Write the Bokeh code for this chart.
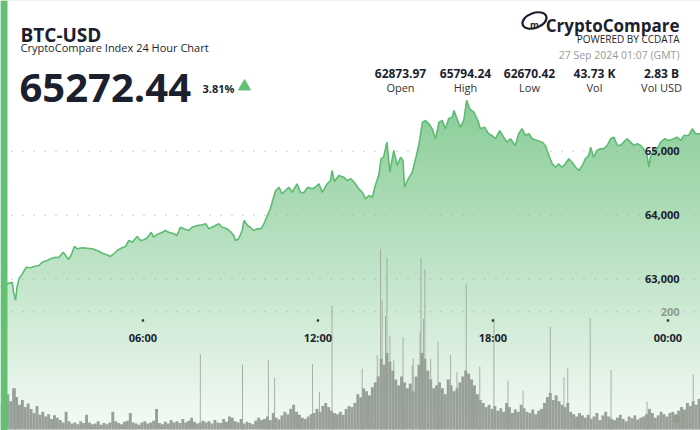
import numpy as np
from bokeh.plotting import figure
from bokeh.models import Range1d, Label, Span, BoxAnnotation
from bokeh.embed import file_html
from bokeh.resources import INLINE

# ---------------- data ----------------
title = "BTC-USD"
subtitle = "CryptoCompare Index 24 Hour Chart"
last_price = "65272.44"
change_pct = "3.81%"
brand = "CryptoCompare"
brand_sub = "POWERED BY CCDATA"
timestamp = "27 Sep 2024 01:07 (GMT)"
stat_values = ["62873.97", "65794.24", "62670.42", "43.73 K", "2.83 B"]
stat_labels = ["Open", "High", "Low", "Vol", "Vol USD"]

# minutes since 00:00 on 26 Sep (window 01:07 -> 01:07 next day)
price_min = [67, 81, 91, 94, 98, 101, 105, 112, 120, 129, 136, 146, 153, 163, 170, 180, 187, 196, 201, 207,
             212, 219, 225, 235, 245, 256, 266, 273, 279, 286, 293, 300, 307, 317, 324, 331, 338, 348, 355, 362,
             369, 377, 382, 389, 400, 406, 413, 424, 430, 437, 444, 454, 461, 472, 482, 489, 496, 502, 509, 516,
             523, 533, 540,
             547, 550, 557, 564, 568, 575, 581, 588, 595, 603, 609, 616, 622, 628, 633, 640, 646, 653, 660, 667,
             677, 684, 691, 699, 708, 715, 722, 729, 739, 746, 749, 754, 763, 773, 780, 788, 797, 804, 811, 818,
             825, 832, 838, 845, 850, 855, 862, 868, 876, 883, 890, 895, 898, 904, 914, 921, 928, 935, 941, 948,
             955, 962, 969, 976, 982, 989, 996, 1000, 1006, 1013, 1020,
             1026, 1032, 1041, 1049, 1054, 1063, 1071, 1078, 1085, 1094, 1102, 1109, 1116, 1126, 1133, 1140, 1147,
             1154, 1161, 1171, 1181, 1188, 1195, 1202, 1209, 1215, 1222, 1229, 1236, 1243, 1250, 1257, 1264, 1270,
             1277, 1281, 1287, 1294, 1301, 1308, 1315, 1322, 1329, 1336, 1343, 1349, 1356, 1363, 1370, 1377, 1384,
             1390, 1397, 1401, 1404, 1411, 1418, 1425, 1433, 1442, 1452, 1459, 1466, 1473, 1483, 1490, 1497, 1507]
price = [62874, 62928, 62953, 62797, 62670, 62875, 63006, 63084, 63188, 63180, 63198, 63214, 63266, 63292, 63319,
         63344, 63340, 63422, 63370, 63308, 63370, 63511, 63475, 63491, 63484, 63475, 63448, 63422, 63397, 63381,
         63355, 63397, 63448, 63491, 63511, 63605, 63578, 63667, 63605, 63616, 63647, 63734, 63656, 63698, 63734,
         63761, 63734, 63709, 63683, 63812, 63787, 63761, 63812, 63839, 63850, 63866, 63787, 63812, 63839, 63866,
         63812, 63787, 63745,
         63683, 63605, 63631, 63761, 63917, 63839, 63812, 63761, 63787, 63790, 63866, 63995, 64100, 64256, 64386,
         64437, 64334, 64386, 64437, 64359, 64491, 64359, 64350, 64437, 64412, 64437, 64491, 64359, 64491, 64542,
         64698, 64527, 64620, 64594, 64542, 64569, 64491, 64412, 64359, 64256, 64308, 64281, 64464, 64620, 64881,
         64906, 65141, 64672, 65011, 64777, 64906, 64855, 64437, 64542, 64672, 64881, 65116, 65453, 65480, 65428,
         65350, 65194, 65453, 65480, 65350, 65506, 65531, 65636, 65506, 65375, 65480,
         65794, 65662, 65609, 65480, 65350, 65375, 65272, 65245, 65194, 65323, 65219, 65141, 65194, 65089, 65272,
         65350, 65245, 65272, 65194, 65167, 65141, 65089, 64933, 64803, 64750, 64803, 64750, 64803, 64881, 64828,
         64750, 64698, 64777, 64881, 64933, 65062, 64906, 65011, 65037, 65040, 65089, 65194, 65219, 65089, 65095,
         65141, 65194, 65141, 65089, 65116, 65089, 65037, 64933, 64750, 64906, 65011, 65037, 65141, 65194, 65167,
         65194, 65219, 65167, 65245, 65250, 65350, 65272, 65272.44]

# volume in 6-minute buckets starting 01:07
vol_bucket = [45, 52, 60, 48, 70, 55, 42, 50, 38, 44,
              35, 28, 40, 25, 30, 22, 26, 18, 24, 20,
              16, 12, 30, 14, 10, 12, 9, 14, 11, 25,
              12, 9, 10, 14, 8, 11, 9, 12, 30, 14,
              11, 9, 13, 15, 28, 12, 10, 8, 12, 14,
              10, 12, 15, 35, 11, 9, 13, 10, 16, 12,
              14, 11, 18, 12, 15, 20, 13, 10, 12, 15,
              12, 14, 10, 16, 12, 11, 18, 13, 22, 20,
              14, 12, 18, 10, 13, 11, 9, 15, 20, 16,
              18, 22, 16, 28, 20, 17, 24, 30, 26, 35,
              42, 30, 25, 20, 18, 22, 26, 28, 35, 30,
              40, 45, 38, 32, 28, 26, 30, 25, 35, 40,
              38, 45, 60, 55, 70, 65, 58, 72, 80, 90,
              120, 110, 130, 115, 100, 85, 75, 90, 80, 70,
              78, 65, 90, 110, 130, 120, 100, 85, 70, 75,
              80, 70, 60, 85, 75, 65, 70, 80, 90, 100,
              95, 85, 75, 60, 50, 45, 38, 42, 35, 40,
              32, 36, 30, 45, 38, 28, 34, 30, 42, 36,
              30, 28, 34, 26, 32, 35, 45, 55, 62, 50,
              58, 48, 42, 38, 45, 30, 26, 22, 28, 24,
              20, 25, 18, 22, 28, 16, 24, 30, 22, 18,
              16, 20, 25, 18, 14, 22, 19, 24, 17, 20,
              22, 26, 35, 28, 20, 24, 30, 26, 22, 28,
              30, 26, 32, 38, 34, 45, 40, 48, 42, 52]
# single-minute volume spikes
spike_min = [98, 478, 565, 618, 631, 709, 723, 749, 811, 842, 849, 852, 859, 862, 868, 876, 895, 914, 916, 930,
             932, 937, 940, 952, 967, 993, 1006, 1025, 1053, 1082, 1111, 1142, 1198, 1226, 1234, 1280, 1323, 1397, 1492]
spike_vol = [70, 128, 110, 118, 88, 111, 64, 210, 103, 126, 306, 219, 193, 292, 159, 117, 157, 109, 120, 165,
             292, 188, 272, 120, 149, 127, 98, 248, 107, 188, 83, 66, 174, 89, 104, 189, 101, 47, 93]

price_ticks = [63000, 64000, 65000]
price_tick_labels = ["63,000", "64,000", "65,000"]
vol_ticks = [200]
vol_tick_labels = ["200"]
vol_zero_label = "0"
time_ticks = [360, 720, 1080, 1440]
time_tick_labels = ["06:00", "12:00", "18:00", "00:00"]

# ---------------- layout ----------------
W, H = 700, 430
X0, X1 = 67, 1507
PB, PT = 60636.0, 67354.7
VB, VT = -1.7, 728.6
FONT = "Open Sans"
DARK = "#1b1f2e"
GREEN = "#63c174"

p = figure(width=W, height=H, x_range=Range1d(X0, X1), y_range=Range1d(PB, PT),
           x_axis_type=None, y_axis_type=None, toolbar_location=None,
           output_backend="svg", min_border=0, outline_line_color=None,
           background_fill_color="white", border_fill_color="white")
p.extra_y_ranges = {"vol": Range1d(VB, VT)}


def sx(px):
    return X0 + px * (X1 - X0) / W


def sy(py):
    return PT - py * (PT - PB) / H


def sv(py):
    return VT - py * (VT - VB) / H


# vertical gradient under the price line
rows = H
img = np.empty((rows, 1), dtype=np.uint32)
v = img.view(dtype=np.uint8).reshape((rows, 1, 4))
base = np.array([90, 185, 110], dtype=float)
for r in range(rows):
    ys = H - (r + 0.5)
    a = 0.72 - 0.66 * (ys - 95) / 335
    a = min(max(a, 0.04), 0.72)
    c = 255 - a * (255 - base)
    v[r, 0, 0] = int(c[0]); v[r, 0, 1] = int(c[1]); v[r, 0, 2] = int(c[2]); v[r, 0, 3] = 255
p.image_rgba(image=[img], x=X0, y=PB, dw=X1 - X0, dh=PT - PB)

# mask above the line
p.varea(x=price_min, y1=price, y2=[PT] * len(price), fill_color="white")

# volume
vol_x = [X0 + 3 + 6 * i for i in range(len(vol_bucket))]
p.vbar(x=vol_x, top=vol_bucket, bottom=0, width=6, y_range_name="vol",
       fill_color="#8e968d", fill_alpha=0.9, line_color=None)
p.vbar(x=spike_min, top=spike_vol, bottom=0, width=1.8, y_range_name="vol",
       fill_color="#9aa199", fill_alpha=0.95, line_color=None)

# price line
p.line(price_min, price, line_color="#5dbb72", line_width=1.6)

# gridlines
for t in price_ticks:
    p.add_layout(Span(location=t, dimension="width", line_color="#a0a0a0",
                      line_width=1, line_dash="1 10"))
for t in vol_ticks:
    p.add_layout(Span(location=t, dimension="width", y_range_name="vol", line_color="#a0a0a0",
                      line_width=1, line_dash="1 10"))

for t, s in zip(price_ticks, price_tick_labels):
    p.add_layout(Label(x=679, x_units="screen", y=t, text=s, text_font=FONT,
                       text_font_size="11px", text_font_style="bold", text_color=DARK,
                       text_align="right", text_baseline="middle"))
for t, s in zip(vol_ticks, vol_tick_labels):
    p.add_layout(Label(x=679, x_units="screen", y=t, y_range_name="vol", text=s, text_font=FONT,
                       text_font_size="11px", text_font_style="bold", text_color="#8d998d",
                       text_align="right", text_baseline="middle"))
p.add_layout(Label(x=679, x_units="screen", y=12, y_units="screen", text=vol_zero_label, text_font=FONT,
                   text_font_size="10px", text_font_style="bold", text_color="#8d998d",
                   text_align="right", text_baseline="alphabetic"))

p.scatter(x=time_ticks, y=[sv(320)] * len(time_ticks), y_range_name="vol",
          marker="square", size=1.5, color="#333333")
for t, s in zip(time_ticks, time_tick_labels):
    p.add_layout(Label(x=t, y=H - 337, y_units="screen", text=s, text_font=FONT,
                       text_font_size="11px", text_font_style="bold", text_color=DARK,
                       text_align="center", text_baseline="middle"))

# left accent bar
p.add_layout(BoxAnnotation(left=0, right=7, left_units="screen", right_units="screen",
                           fill_color=GREEN, fill_alpha=1, line_color=None, level="overlay"))


def lab(x, yb, text, size, bold=False, color=DARK, align="left"):
    p.add_layout(Label(x=x, y=H - yb, x_units="screen", y_units="screen", text=text,
                       text_font=FONT, text_font_size=f"{size}px",
                       text_font_style="bold" if bold else "normal",
                       text_color=color, text_align=align, text_baseline="alphabetic"))


lab(20, 34, title, 19, True)
lab(20, 46.5, subtitle, 11)
lab(19, 87.5, last_price, 40, True)
lab(202, 88, change_pct, 11, True)
p.scatter(x=[sx(244)], y=[sy(86)], marker="triangle", size=12, color=GREEN)

lab(679, 25, brand, 17, True, align="right")
lab(679, 38.5, brand_sub, 10, align="right")
lab(679, 54.5, timestamp, 10.5, color="#9a9a9a", align="right")
p.ellipse(x=[sx(534)], y=[sy(20)], width=25, height=15, angle=0.35,
          width_units="screen", height_units="screen",
          fill_color=None, line_color=DARK, line_width=2.2)
lab(534, 24, "m", 9, True, align="center")

centers = [400, 465, 529, 594, 661]
for c, val, name in zip(centers, stat_values, stat_labels):
    lab(c, 72.5, val, 12, True, align="center")
    lab(c, 86.5, name, 11, color="#333333", align="center")

open("out.html", "w").write(file_html(p, INLINE))
